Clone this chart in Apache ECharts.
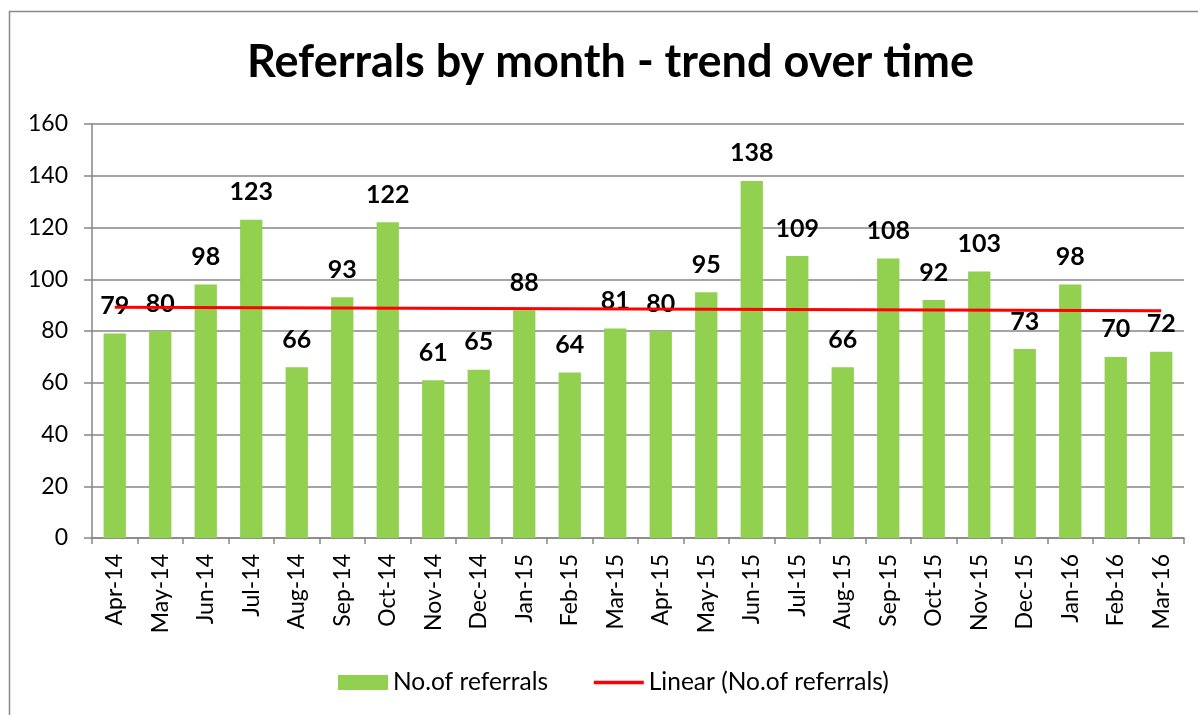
<!DOCTYPE html>
<html>
<head>
<meta charset="utf-8">
<script src="https://cdn.jsdelivr.net/npm/echarts@6/dist/echarts.min.js"></script>
<style>
  html, body { margin: 0; padding: 0; background: #fff; }
  #chart { width: 1198px; height: 715px; }
</style>
</head>
<body>
<div id="chart"></div>
<script>
// Monthly referral counts, Apr-14 .. Mar-16
var months = ['Apr-14', 'May-14', 'Jun-14', 'Jul-14', 'Aug-14', 'Sep-14', 'Oct-14', 'Nov-14',
  'Dec-14', 'Jan-15', 'Feb-15', 'Mar-15', 'Apr-15', 'May-15', 'Jun-15', 'Jul-15', 'Aug-15',
  'Sep-15', 'Oct-15', 'Nov-15', 'Dec-15', 'Jan-16', 'Feb-16', 'Mar-16'];
var referrals = [79, 80, 98, 123, 66, 93, 122, 61, 65, 88, 64, 81, 80, 95, 138, 109, 66, 108,
  92, 103, 73, 98, 70, 72];
// trend line end points (Excel linear trendline)
var trendStart = 89.2;
var trendEnd = 87.8;
var yTicks = { min: 0, max: 160, step: 20 };

var trend = months.map(function (m, i) {
  if (i === 0) return trendStart;
  if (i === months.length - 1) return trendEnd;
  return null;
});

var FONT = 'Lato, "Open Sans", sans-serif';
var AXIS = '#868686';

var chart = echarts.init(document.getElementById('chart'), null, { renderer: 'canvas' });
chart.setOption({
  animation: false,
  textStyle: { fontFamily: FONT, color: '#000' },
  title: {
    text: 'Referrals by month - trend over time',
    left: 242,
    top: 35,
    textStyle: { fontFamily: FONT, fontSize: 45, fontWeight: 'bold', color: '#000' }
  },
  graphic: [{
    type: 'rect',
    shape: { x: 9.5, y: 11.5, width: 1200, height: 720 },
    style: { fill: 'none', stroke: '#898989', lineWidth: 1.5 },
    silent: true
  }],
  grid: { left: 92, right: 14, top: 124, bottom: 177 },
  legend: {
    top: 665,
    left: 333,
    itemGap: 44,
    itemWidth: 50,
    itemHeight: 15,
    textStyle: { fontFamily: FONT, fontSize: 24.5, color: '#000' },
    data: [
      { name: 'No.of referrals', icon: 'rect' },
      { name: 'Linear (No.of referrals)', itemStyle: { opacity: 0 }, lineStyle: { width: 3.5 } }
    ]
  },
  xAxis: {
    type: 'category',
    data: months,
    boundaryGap: true,
    axisLine: { lineStyle: { color: AXIS, width: 1.5 } },
    axisTick: { show: true, length: 6, lineStyle: { color: AXIS, width: 1.5 } },
    axisLabel: { rotate: 90, fontSize: 23, color: '#000', margin: 16, interval: 0, fontFamily: FONT }
  },
  yAxis: {
    type: 'value',
    min: yTicks.min,
    max: yTicks.max,
    interval: yTicks.step,
    axisLine: { show: true, lineStyle: { color: AXIS, width: 1.5 } },
    axisTick: { show: true, length: 8, lineStyle: { color: AXIS, width: 1.5 } },
    axisLabel: { fontSize: 23, color: '#000', margin: 24, fontFamily: FONT },
    splitLine: { lineStyle: { color: AXIS, width: 1.5 } }
  },
  series: [{
    name: 'No.of referrals',
    type: 'bar',
    data: referrals,
    barWidth: '49%',
    itemStyle: { color: '#92D050' },
    label: {
      show: true,
      position: 'top',
      distance: 15,
      fontSize: 25,
      fontWeight: 'bold',
      color: '#000',
      fontFamily: FONT
    }
  }, {
    name: 'Linear (No.of referrals)',
    type: 'line',
    data: trend,
    connectNulls: true,
    symbol: 'none',
    lineStyle: { color: '#FF0000', width: 3 },
    itemStyle: { color: '#FF0000' },
    z: 5
  }]
});
</script>
</body>
</html>
